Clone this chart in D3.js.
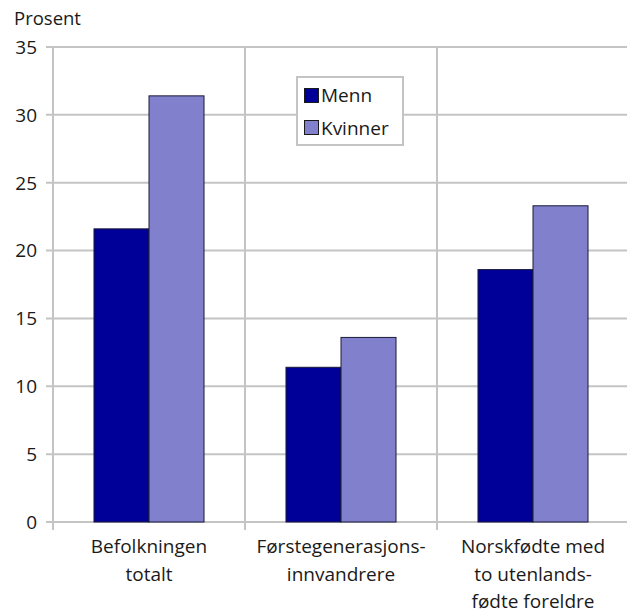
<!DOCTYPE html>
<html><head><meta charset="utf-8">
<script src="https://cdn.jsdelivr.net/npm/d3@7"></script>
<style>body{margin:0;background:#fff}svg{display:block}text{font-family:"Open Sans",sans-serif;fill:#1a1a1a}</style>
</head><body><svg id="c" width="627" height="615"></svg>
<script>
const categories = [["Befolkningen","totalt"],["Førstegenerasjons-","innvandrere"],["Norskfødte med","to utenlands-","fødte foreldre"]];
const series = ["Menn","Kvinner"];
const menn = [21.6, 11.4, 18.6];
const kvinner = [31.4, 13.6, 23.3];
const yTicks = [0,5,10,15,20,25,30,35];
const colors = ["#000099","#8080cc"];

const svg = d3.select("#c");
const L=53, R=629, T=47, B=522;
const x = d3.scaleBand().domain(d3.range(categories.length)).range([L,R]).paddingInner(0).paddingOuter(0);
const y = d3.scaleLinear().domain([0,35]).range([B,T]);
const xs = d3.scaleBand().domain(series).range([0,x.bandwidth()]).paddingInner(0).paddingOuter(0.745);
const grid = "#c4c4c4";

// horizontal grid
svg.append("g").selectAll("line").data(yTicks).join("line")
  .attr("x1",L-7).attr("x2",627).attr("y1",d=>y(d)).attr("y2",d=>y(d))
  .attr("stroke",grid).attr("stroke-width",2);
// vertical grid
svg.append("g").selectAll("line").data(d3.range(categories.length)).join("line")
  .attr("x1",d=>x(d)).attr("x2",d=>x(d)).attr("y1",T).attr("y2",B+8)
  .attr("stroke",grid).attr("stroke-width",2);

// y labels
svg.append("g").selectAll("text").data(yTicks).join("text")
  .attr("x",37).attr("y",d=>y(d)).attr("dy","0.36em").attr("text-anchor","end")
  .attr("font-size",19).text(d=>d);
svg.append("text").attr("x",14).attr("y",25).attr("font-size",18.5).text("Prosent");

// bars
const data = series.map((s,i)=>({s, vals:(i===0?menn:kvinner)}));
data.forEach((ser,si)=>{
  svg.append("g").selectAll("rect").data(ser.vals).join("rect")
    .attr("x",(d,i)=>x(i)+xs(ser.s)).attr("width",xs.bandwidth())
    .attr("y",d=>y(d)).attr("height",d=>B-y(d))
    .attr("fill",colors[si]).attr("stroke","#1a1a3a").attr("stroke-width",1);
});

// category labels
const cl = svg.append("g");
categories.forEach((lines,i)=>{
  const t = cl.append("text").attr("text-anchor","middle").attr("font-size",19);
  lines.forEach((ln,j)=>t.append("tspan").attr("x",x(i)+x.bandwidth()/2).attr("y",553+j*27.5).text(ln));
});

// legend
const lg = svg.append("g");
lg.append("rect").attr("x",297).attr("y",77).attr("width",106).attr("height",68)
  .attr("fill","#fff").attr("stroke",grid).attr("stroke-width",2);
series.forEach((s,i)=>{
  lg.append("rect").attr("x",304.5).attr("y",88.5+i*32).attr("width",14).attr("height",14)
    .attr("fill",colors[i]).attr("stroke","#1a1a1a").attr("stroke-width",1);
  lg.append("text").attr("x",321).attr("y",102+i*33).attr("font-size",19).text(s);
});
</script></body></html>
